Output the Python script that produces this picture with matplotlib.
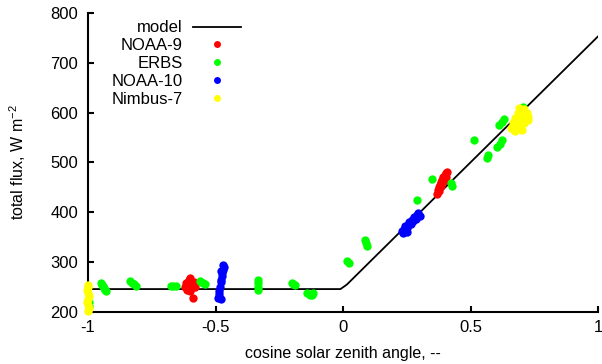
import numpy as np
import matplotlib
matplotlib.use('Agg')
import matplotlib.pyplot as plt

plt.rcParams['font.family'] = ['Liberation Sans Narrow', 'Liberation Sans', 'DejaVu Sans']

# model curve
model_mu = [-1.0, -0.01, 0.015, 1.0]
model_flux = [246, 246, 255, 753]

# NOAA-9
noaa9_mu = [-0.62, -0.615, -0.61, -0.605, -0.6, -0.6, -0.595, -0.59, -0.585, -0.58, -0.6, -0.588,
            0.37, 0.372, 0.375, 0.378, 0.38, 0.383, 0.386, 0.39, 0.393, 0.397, 0.4, 0.404, 0.408, 0.405]
noaa9_flux = [250, 258, 245, 265, 252, 268, 248, 255, 260, 250, 243, 228,
              437, 445, 450, 442, 455, 460, 452, 465, 470, 462, 475, 478, 481, 470]

# ERBS
erbs_mu = [-0.995, -0.995,
           -0.948, -0.944, -0.94, -0.936, -0.932, -0.928,
           -0.835, -0.828, -0.82, -0.813,
           -0.675, -0.665, -0.655,
           -0.56, -0.555, -0.548, -0.54,
           -0.335, -0.335, -0.335, -0.333,
           -0.2, -0.195, -0.19,
           -0.14, -0.13, -0.122, -0.118,
           0.015, 0.022,
           0.088, 0.09, 0.093,
           0.29, 0.35, 0.425, 0.428,
           0.515, 0.565, 0.57,
           0.603, 0.615, 0.625,
           0.612, 0.622, 0.632, 0.707]
erbs_flux = [212, 220,
             258, 255, 252, 248, 245, 242,
             262, 259, 256, 253,
             252, 252, 252,
             263, 260, 258, 256,
             265, 258, 250, 244,
             258, 256, 254,
             238, 235, 234, 238,
             302, 298,
             345, 338, 332,
             425, 466, 458, 452,
             546, 510, 515,
             532, 538, 545,
             576, 582, 588, 612]

# NOAA-10
noaa10_mu = [-0.47, -0.468, -0.472, -0.475, -0.473, -0.477, -0.48, -0.483, -0.485, -0.487, -0.485, -0.48, -0.49, -0.478,
             0.23, 0.24, 0.245, 0.25, 0.255, 0.26, 0.265, 0.27, 0.275, 0.28, 0.285, 0.29, 0.295, 0.3, 0.25, 0.235]
noaa10_flux = [295, 290, 285, 278, 272, 265, 260, 250, 243, 236, 230, 226, 228, 283,
               362, 366, 372, 368, 375, 380, 376, 385, 382, 390, 387, 395, 398, 393, 360, 358]

# Nimbus-7
nimbus7_mu = [-1.0, -0.998, -1.0, -1.002, -1.0, -0.998, -1.0, -1.002, -1.0, -1.0,
              0.66, 0.665, 0.67, 0.675, 0.68, 0.685, 0.69, 0.695, 0.7, 0.705, 0.71, 0.715,
              0.72, 0.725, 0.675, 0.69, 0.7, 0.71, 0.725]
nimbus7_flux = [202, 208, 214, 220, 226, 232, 238, 244, 250, 255,
                570, 580, 565, 590, 575, 600, 585, 570, 595, 605, 580, 590,
                600, 585, 563, 610, 566, 608, 592]

fig = plt.figure(figsize=(6.02, 3.64), dpi=100)
ax = fig.add_subplot(111)
fig.subplots_adjust(left=88/602, right=598/602, bottom=52/364, top=351/364)

ms = 6
ax.plot(model_mu, model_flux, color='black', lw=1.3, label='model', zorder=2)
ax.plot(noaa9_mu, noaa9_flux, 'o', color='#ff0000', ms=ms, mec='none', label='NOAA-9', clip_on=False, zorder=3)
ax.plot(erbs_mu, erbs_flux, 'o', color='#00ff00', ms=ms, mec='none', label='ERBS', clip_on=False, zorder=3)
ax.plot(noaa10_mu, noaa10_flux, 'o', color='#0000ff', ms=ms, mec='none', label='NOAA-10', clip_on=False, zorder=3)
ax.plot(nimbus7_mu, nimbus7_flux, 'o', color='#ffff00', ms=ms, mec='none', label='Nimbus-7', clip_on=False, zorder=3)

ax.set_xlim(-1, 1)
ax.set_ylim(200, 800)
ax.set_xticks([-1, -0.5, 0, 0.5, 1])
ax.set_xticklabels(['-1', '-0.5', '0', '0.5', '1'])
ax.set_yticks(range(200, 801, 100))

for s in ['top', 'right']:
    ax.spines[s].set_visible(False)
for s in ['left', 'bottom']:
    ax.spines[s].set_linewidth(1.5)
ax.tick_params(direction='in', length=4, width=1.5, labelsize=12)
ax.tick_params(axis='y', pad=7)
ax.tick_params(axis='x', pad=6)

ax.set_xlabel('cosine solar zenith angle, --', fontsize=11.5, labelpad=8)
ax.set_ylabel('total flux, W m$^{\\mathregular{-2}}$', fontsize=11.5, labelpad=16)

leg = ax.legend(loc='upper right', bbox_to_anchor=(0.3, 0.975), frameon=False, markerfirst=False,
                numpoints=1, handlelength=2.9, handletextpad=0.6, labelspacing=0.17,
                borderpad=0, borderaxespad=0, fontsize=12)
for h in leg.legend_handles[1:]:
    h.set_markersize(5)

fig.savefig('out.png', dpi=100)
